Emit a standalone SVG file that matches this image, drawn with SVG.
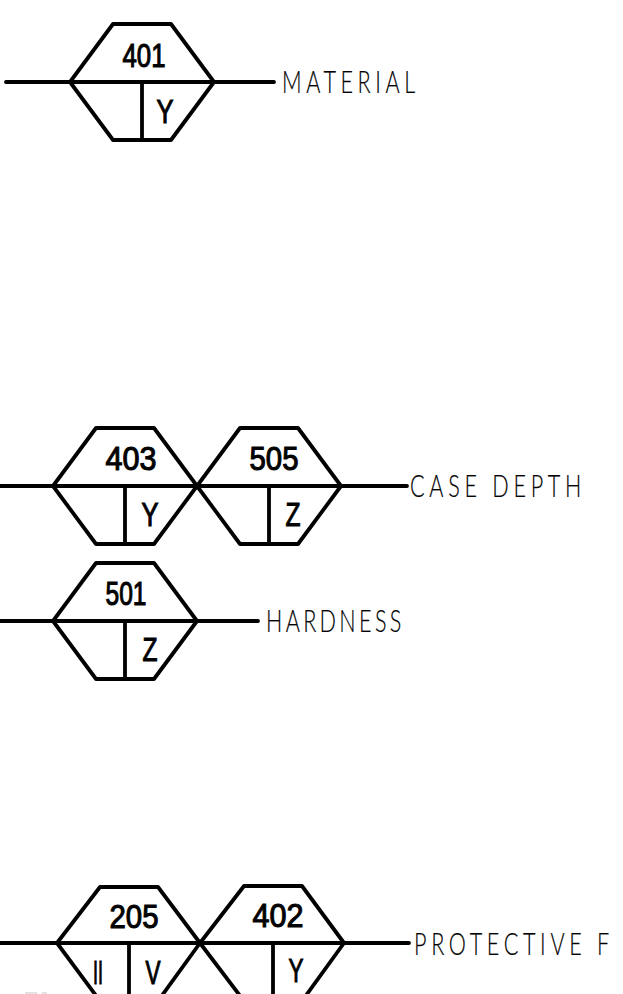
<svg xmlns="http://www.w3.org/2000/svg" width="623" height="994" viewBox="0 0 623 994">
<style>
.s{fill:none;stroke:#000;stroke-width:3.8;stroke-linejoin:round;stroke-linecap:round}
.n{font-family:"Liberation Sans",Arial,sans-serif;font-size:33px;fill:#000;text-anchor:middle;stroke:#000;stroke-width:1.1;opacity:.99}
.l{font-family:"Lato","Liberation Sans",sans-serif;font-weight:300;font-size:30px;fill:#000;stroke:#000;stroke-width:.2;opacity:.99}
.f{fill:#e2e2e2}
</style>
<defs>
<path id="hex" class="s" d="M-72 0L-29-58H29L72 0L29 58H-29ZM-72 0H72M0 0V58"/>
</defs>
<rect width="623" height="994" fill="#fff"/>
<rect class="f" x="25" y="992" width="12" height="2"/>
<rect class="f" x="42" y="992" width="5" height="2"/>
<g id="connectors">
<path class="s" d="M6 82H70M214 82H274"/>
<path class="s" d="M0 486H52M341 486H407"/>
<path class="s" d="M0 621H52M197 621H258"/>
<path class="s" d="M0 943H57M344 943H409"/>
</g>
<g id="n401"><use href="#hex" x="142" y="82"/><text class="n" x="144" y="67" textLength="43" lengthAdjust="spacingAndGlyphs">401</text><text class="n" x="165" y="123" textLength="17" lengthAdjust="spacingAndGlyphs">Y</text></g>
<g id="n403"><use href="#hex" x="125" y="486"/><text class="n" x="131" y="470" textLength="51" lengthAdjust="spacingAndGlyphs">403</text><text class="n" x="150" y="526" textLength="17" lengthAdjust="spacingAndGlyphs">Y</text></g>
<g id="n505"><use href="#hex" x="269" y="486"/><text class="n" x="274" y="470" textLength="49" lengthAdjust="spacingAndGlyphs">505</text><text class="n" x="293" y="526" textLength="15" lengthAdjust="spacingAndGlyphs">Z</text></g>
<g id="n501"><use href="#hex" x="125" y="621"/><text class="n" x="126" y="605" textLength="41" lengthAdjust="spacingAndGlyphs">501</text><text class="n" x="150" y="661" textLength="15" lengthAdjust="spacingAndGlyphs">Z</text></g>
<g id="n205"><path class="s" d="M57 943L100 887H158L200 943L158 1001H100ZM57 943H200M129 943V1001"/><text class="n" x="134" y="928" textLength="49" lengthAdjust="spacingAndGlyphs">205</text><text class="n" x="98" y="984" textLength="10" lengthAdjust="spacingAndGlyphs">II</text><text class="n" x="153" y="984" textLength="15" lengthAdjust="spacingAndGlyphs">V</text></g>
<g id="n402"><path class="s" d="M200 943L244 886H302L344 943L302 1001H244ZM200 943H344M273 943V1001"/><text class="n" x="278" y="927" textLength="51" lengthAdjust="spacingAndGlyphs">402</text><text class="n" x="296" y="982" textLength="15" lengthAdjust="spacingAndGlyphs">Y</text></g>
<g id="labels">
<text class="l" transform="translate(282 93) scale(.72 1.02)" textLength="185">MATERIAL</text>
<text class="l" transform="translate(410 497) scale(.72 1.02)" textLength="238">CASE DEPTH</text>
<text class="l" transform="translate(266 632) scale(.72 1.02)" textLength="188">HARDNESS</text>
<text class="l" transform="translate(414 955) scale(.72 1.02)" textLength="271">PROTECTIVE F</text>
</g>
</svg>
